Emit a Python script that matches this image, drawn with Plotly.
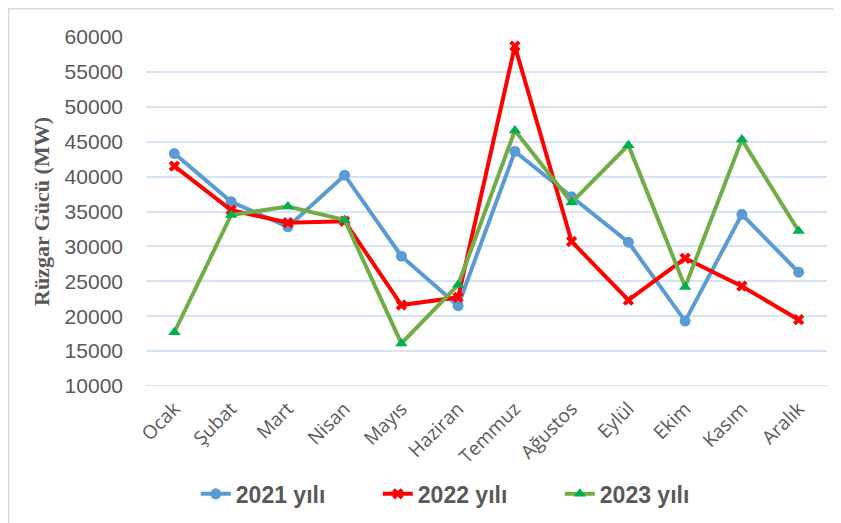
import plotly.graph_objects as go

months = ["Ocak", "Şubat", "Mart", "Nisan", "Mayıs", "Haziran", "Temmuz",
          "Ağustos", "Eylül", "Ekim", "Kasım", "Aralık"]
y2021 = [43300, 36400, 32800, 40200, 28600, 21500, 43600, 37100, 30600, 19300, 34600, 26300]
y2022 = [41500, 35200, 33400, 33600, 21600, 22700, 58700, 30700, 22300, 28300, 24300, 19500]
y2023 = [17700, 34500, 35700, 33800, 16100, 24500, 46600, 36300, 44500, 24200, 45300, 32200]
tick_vals = [10000, 15000, 20000, 25000, 30000, 35000, 40000, 45000, 50000, 55000, 60000]

fig = go.Figure()
fig.add_trace(go.Scatter(x=months, y=y2021, name="2021 yılı", mode="lines+markers",
                         line=dict(color="#5b9bd5", width=4),
                         marker=dict(symbol="circle", size=11, color="#5b9bd5")))
fig.add_trace(go.Scatter(x=months, y=y2022, name="2022 yılı", mode="lines+markers",
                         line=dict(color="#ff0000", width=4),
                         marker=dict(symbol="x", size=10, color="#ff0000")))
fig.add_trace(go.Scatter(x=months, y=y2023, name="2023 yılı", mode="lines+markers",
                         line=dict(color="#70ad47", width=4),
                         marker=dict(symbol="triangle-up", size=11, color="#00b050")))

# page body has an 8px margin, so figure coords = screen coords - 8
W, H = 841, 523
L, T = 138, 29
R = W - 819
B = H - 378
pw, ph = W - L - R, H - T - B

fig.update_layout(
    width=W, height=H,
    margin=dict(l=L, r=R, t=T, b=B, autoexpand=False),
    paper_bgcolor="white", plot_bgcolor="white",
    showlegend=True,
    legend=dict(orientation="h", x=0.474, xanchor="center", y=-0.309, yanchor="middle",
                font=dict(family="Liberation Sans", size=23, color="#595959", weight="bold"),
                entrywidth=137, entrywidthmode="pixels", tracegroupgap=0),
    xaxis=dict(range=[-0.5, 11.5], tickangle=-45, showgrid=False, showline=False,
               zeroline=False, ticks="", automargin=False, ticklabelstandoff=7,
               tickfont=dict(family="Open Sans", size=19, color="#595959")),
    yaxis=dict(range=[10000, 60000], tickvals=tick_vals, tickformat="d", showgrid=True,
               gridcolor="#d6e4f3", gridwidth=1.5, zeroline=False, showline=False,
               ticks="", ticklabelstandoff=22, automargin=False,
               tickfont=dict(family="Liberation Sans", size=21, color="#595959"),
               title=dict(text="Rüzgar Gücü (MW)", standoff=8,
                          font=dict(family="Liberation Serif", size=22, color="#595959",
                                    weight="bold"))),
    shapes=[
        dict(type="line", xref="paper", yref="y", x0=0, x1=1, y0=10000, y1=10000,
             line=dict(color="#d9d9d9", width=1.5), layer="below"),
        dict(type="rect", xref="paper", yref="paper",
             x0=(0.75 - L) / pw, x1=(W + 5 - L) / pw,
             y0=-(B + 10) / ph, y1=(H - B - 0.75) / ph,
             line=dict(color="#d9d9d9", width=1.5), layer="below"),
    ],
)
fig.write_html("out.html")
